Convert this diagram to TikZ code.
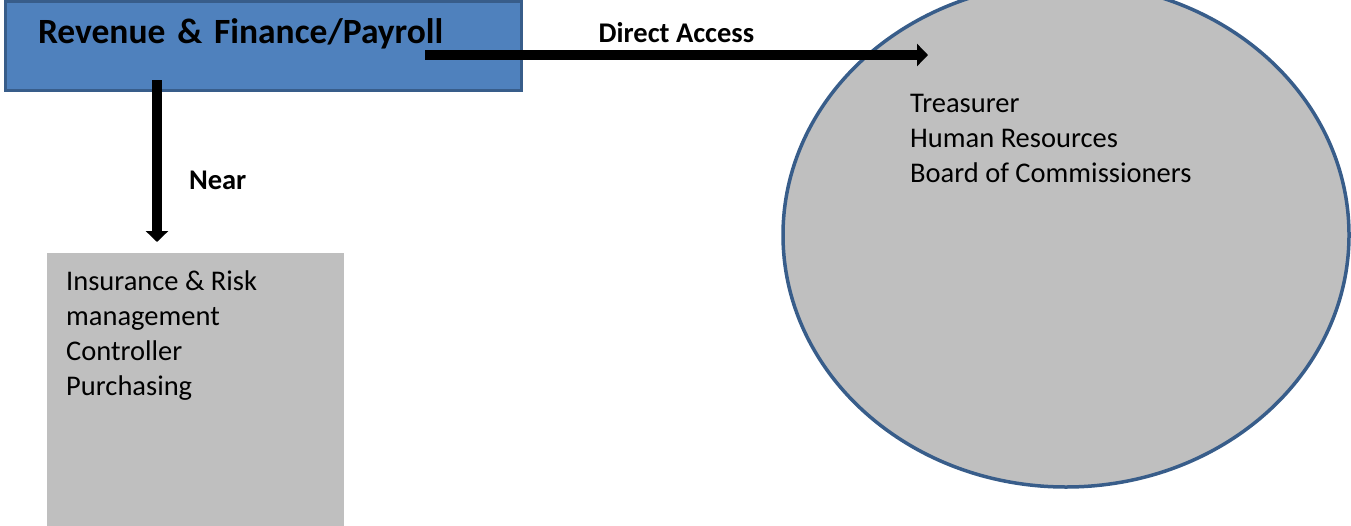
\documentclass[tikz,border=0pt]{standalone}
\usepackage{fontspec}
\setmainfont{Carlito}
\usetikzlibrary{shapes.geometric, arrows.meta, positioning}
\definecolor{deptfill}{HTML}{4F81BD}
\definecolor{deptline}{HTML}{385D8A}
\definecolor{grupo}{HTML}{BFBFBF}
\tikzset{
  dept/.style={rectangle, draw=deptline, fill=deptfill, line width=3pt,
    minimum height=89pt, text width=450pt, inner xsep=33pt, align=left,
    text height=20pt, text depth=25pt, font=\fontsize{35.5}{40}\selectfont\bfseries},
  listbox/.style={rectangle, fill=grupo, draw=none,
    minimum width=297pt, minimum height=274pt},
  ring/.style={ellipse, draw=deptline, fill=grupo, line width=3.5pt,
    minimum width=566pt, minimum height=504pt},
  listtext/.style={align=left, inner sep=0pt, font=\fontsize{28.5}{35}\selectfont},
  link/.style={line width=10pt, -{Triangle[length=11pt, width=22pt]}},
  lbl/.style={font=\fontsize{28.5}{32}\selectfont\bfseries, inner sep=0pt}
}
\begin{document}
\begin{tikzpicture}[x=1pt, y=-1pt]
  \useasboundingbox (0,0) rectangle (1351,525);
  \node[dept] (rev) at (263,45.5) {Revenue \& Finance/Payroll};
  \node[listbox] (near) at (195.5,390) {};
  \node[listtext, anchor=base west] (nearlist) at (66,395)
    {Insurance \& Risk\\management\\Controller\\Purchasing};
  \node[ring] (direct) at (1066,235) {};
  \node[listtext, anchor=base west] (directlist) at (910,182)
    {Treasurer\\Human Resources\\Board of Commissioners};
  \coordinate (revdown) at (157,80);
  \coordinate (neartop) at (157,242);
  \coordinate (revout) at (425,55);
  \coordinate (ringin) at (928,55);
  \draw[link] (revdown) -- node[lbl, right=27pt, pos=0.62] (nearlbl) {Near} (neartop);
  \draw[link] (revout) -- node[lbl, above=7pt] (directlbl) {Direct Access} (ringin);
\end{tikzpicture}
\end{document}
